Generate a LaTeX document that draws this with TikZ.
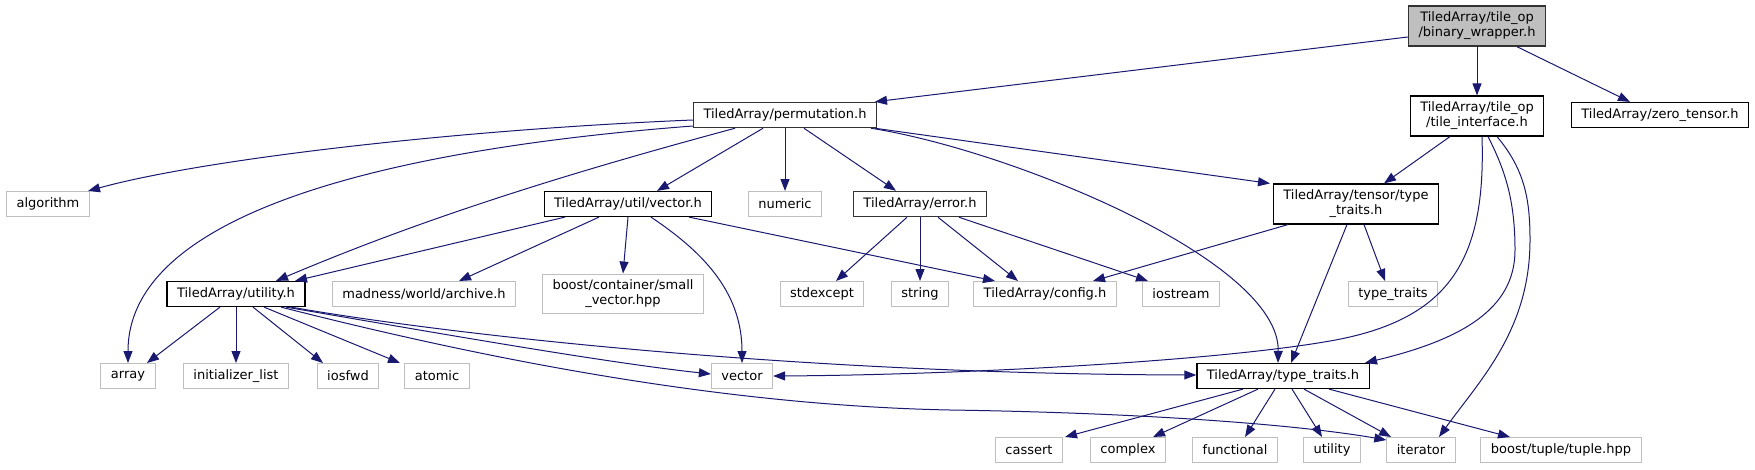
\documentclass[tikz,border=0pt]{standalone}
\usepackage{fontspec}
\setmainfont{DejaVu Sans}
\usepackage{tikz}
\usetikzlibrary{calc, positioning, arrows.meta}
\definecolor{edgeblue}{HTML}{191970}
\definecolor{extgrey}{HTML}{BFBFBF}
\definecolor{darkedge}{HTML}{333333}

\begin{document}
\begin{tikzpicture}[x=1pt, y=-1pt,
		hdr/.style={draw=black, line width=1.2pt, fill=white, inner xsep=10pt, inner ysep=6pt,
			minimum height=25pt, align=center, font=\fontsize{13}{15}\selectfont},
		hdrdark/.style={hdr, draw=darkedge, line width=1.5pt},
		ext/.style={hdr, draw=extgrey, line width=1pt},
		dep/.style={draw=edgeblue, line width=1pt, -{Triangle[length=12pt,width=9pt]}}]
			\useasboundingbox (0,0) rectangle (1755,469);
			
			%top row
			\node[hdrdark, fill=extgrey] (bw) at (1477,26) {TiledArray/tile\_op\\/binary\_wrapper.h};
			\node[hdrdark] (perm) at (785,115) {TiledArray/permutation.h};
			\node[hdr] (ti) at (1477,116) {TiledArray/tile\_op\\/tile\_interface.h};
			\node[hdr] (zt) at (1660,115) {TiledArray/zero\_tensor.h};
			
			\node[ext] (algo) at (48,204) {algorithm};
			\node[hdr] (uvec) at (628,204) {TiledArray/util/vector.h};
			\node[ext] (numeric) at (785,204) {numeric};
			\node[hdrdark] (err) at (920,204) {TiledArray/error.h};
			\node[hdr] (ttens) at (1356,204) {TiledArray/tensor/type\\\_traits.h};
			
			\node[hdr] (util) at (236,294) {TiledArray/utility.h};
			\node[ext] (archive) at (424,294) {madness/world/archive.h};
			\node[ext] (smallvec) at (623,294) {boost/container/small\\\_vector.hpp};
			\node[ext] (stdexc) at (822,294) {stdexcept};
			\node[ext] (string) at (920,294) {string};
			\node[ext] (config) at (1045,294) {TiledArray/config.h};
			\node[ext] (iostream) at (1181,294) {iostream};
			\node[ext] (stdtt) at (1393,294) {type\_traits};
			
			\node[ext] (array) at (128,376) {array};
			\node[ext] (initlist) at (236,376) {initializer\_list};
			\node[ext] (iosfwd) at (348,376) {iosfwd};
			\node[ext] (atomic) at (437,376) {atomic};
			\node[ext] (vector) at (742,376) {vector};
			\node[hdr] (tt) at (1283,376) {TiledArray/type\_traits.h};
			
			%bottom row
			\node[ext] (cassert) at (1029,450) {cassert};
			\node[ext] (complex) at (1128,450) {complex};
			\node[ext] (functional) at (1235,450) {functional};
			\node[ext] (utility) at (1332,450) {utility};
			\node[ext] (iterator) at (1421,450) {iterator};
			\node[ext] (tuple) at (1561,450) {boost/tuple/tuple.hpp};
			
			%binary_wrapper.h
			\draw[dep] ([yshift=-11]bw.west) -- ([xshift=90]perm.north);
			\draw[dep] (bw.south) -- (ti.north);
			\draw[dep] ([xshift=40]bw.south) -- ([xshift=-30]zt.north);
			
			%permutation.h
			\draw[dep] ([yshift=-5]perm.west) .. controls (450,130) and (200,160) .. ([xshift=40]algo.north);
			\draw[dep] ([yshift=-11]perm.west) .. controls (380,150) and (128,215) .. (array.north);
			\draw[dep] ([xshift=-50]perm.south) .. controls (535,182) and (406,226) .. ([xshift=40]util.north);
			\draw[dep] ([xshift=-22]perm.south) -- ([xshift=29]uvec.north);
			\draw[dep] (perm.south) -- (numeric.north);
			\draw[dep] ([xshift=19]perm.south) -- ([xshift=-24]err.north);
			\draw[dep] ([xshift=90]perm.south) -- ([xshift=-86]ttens.north);
			\draw[dep] ([xshift=86]perm.south) .. controls (1010,150) and (1280,260) .. ([xshift=-5]tt.north);
			
			%util/vector.h
			\draw[dep] ([xshift=-63]uvec.south) -- ([xshift=59]util.north);
			\draw[dep] ([xshift=-29]uvec.south) -- ([xshift=35]archive.north);
			\draw[dep] (uvec.south) -- (smallvec.north);
			\draw[dep] ([xshift=23]uvec.south) .. controls (700,250) and (742,290) .. (vector.north);
			\draw[dep] ([xshift=61]uvec.south) -- ([xshift=-50]config.north);
			
			%error.h
			\draw[dep] ([xshift=-13]err.south) -- ([xshift=14]stdexc.north);
			\draw[dep] (err.south) -- (string.north);
			\draw[dep] ([xshift=18]err.south) -- ([xshift=-27]config.north);
			\draw[dep] ([xshift=39]err.south) -- ([xshift=-33]iostream.north);
			
			%tensor/type_traits.h
			\draw[dep] ([xshift=-68]ttens.south) -- ([xshift=48]config.north);
			\draw[dep] ([xshift=-9]ttens.south) -- ([xshift=8]tt.north);
			\draw[dep] ([xshift=8]ttens.south) -- ([xshift=-8]stdtt.north);
			
			%tile_interface.h
			\draw[dep] ([xshift=-27]ti.south) -- ([xshift=28]ttens.north);
			\draw[dep] ([xshift=5]ti.south) .. controls (1486,260) and (1450,320) .. (1330,341)
				.. controls (1210,362) and (950,375) .. (vector.east);
			\draw[dep] ([xshift=11]ti.south) .. controls (1505,170) and (1515,200) .. (1515,250)
				.. controls (1515,310) and (1460,340) .. ([xshift=82]tt.north);
			\draw[dep] ([xshift=20]ti.south) .. controls (1525,170) and (1530,200) .. (1530,240)
				.. controls (1530,330) and (1480,380) .. ([xshift=18]iterator.north);
			
			%utility.h
			\draw[dep] ([xshift=-16]util.south) -- ([xshift=19]array.north);
			\draw[dep] (util.south) -- (initlist.north);
			\draw[dep] ([xshift=17]util.south) -- ([xshift=-25]iosfwd.north);
			\draw[dep] ([xshift=28]util.south) -- ([xshift=-37]atomic.north);
			\draw[dep] ([xshift=50]util.south) .. controls (420,330) and (600,362) .. ([yshift=2]vector.west);
			\draw[dep] ([xshift=55]util.south) .. controls (450,335) and (800,374) .. ([yshift=1]tt.west);
			\draw[dep] ([xshift=45]util.south) .. controls (450,350) and (700,405) .. (950,410)
				.. controls (1150,413) and (1300,425) .. ([yshift=10]iterator.west);
			
			%type_traits.h
			\draw[dep] ([xshift=-40]tt.south) -- ([xshift=36]cassert.north);
			\draw[dep] ([xshift=-25]tt.south) -- ([xshift=25]complex.north);
			\draw[dep] ([xshift=-8]tt.south) -- ([xshift=10]functional.north);
			\draw[dep] ([xshift=9]tt.south) -- ([xshift=-10]utility.north);
			\draw[dep] ([xshift=21]tt.south) -- ([xshift=-30]iterator.north);
			\draw[dep] ([xshift=46]tt.south) -- ([xshift=-51]tuple.north);
			
		\end{tikzpicture}
\end{document}
